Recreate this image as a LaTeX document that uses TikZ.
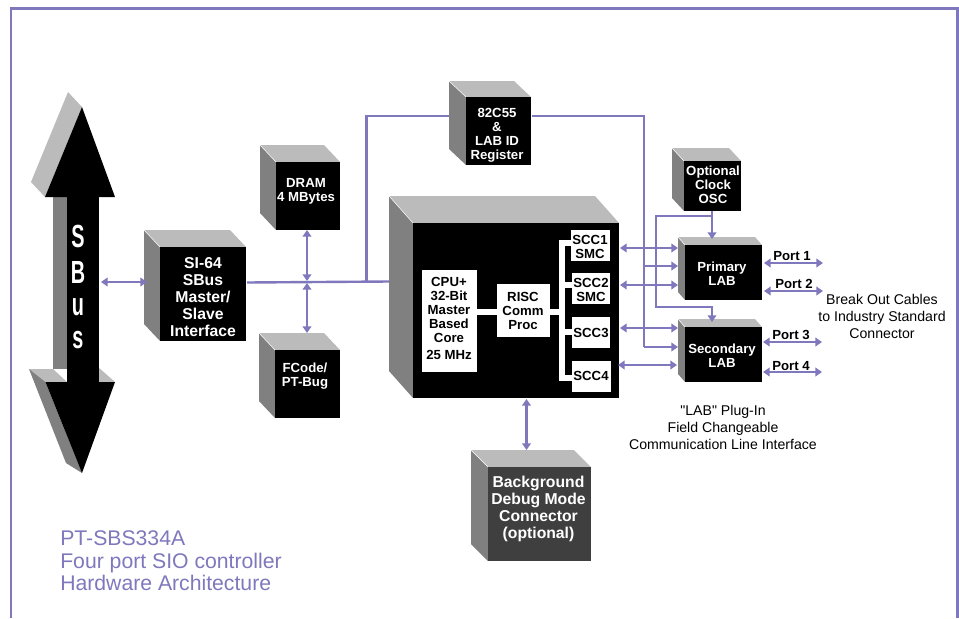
\documentclass[tikz,border=0pt]{standalone}
\usepackage{fontspec}
\setmainfont{Liberation Sans}[Ligatures=TeXOff]
\usetikzlibrary{arrows.meta}
\definecolor{lnk}{HTML}{7F78BC}
\definecolor{toplt}{HTML}{BBBBBB}
\definecolor{sidedk}{HTML}{808080}
\definecolor{dbg}{HTML}{3F3F3F}
\tikzset{
 px/.style={x=0.75pt,y=-0.75pt},
 bi/.style={draw=lnk,line width=1.8pt,{Triangle[length=5pt,width=6.5pt]}-{Triangle[length=5pt,width=6.5pt]}},
 uni/.style={draw=lnk,line width=1.8pt,-{Triangle[length=5pt,width=6.5pt]}},
 thinuni/.style={draw=lnk,line width=1pt,-{Triangle[length=5pt,width=6.5pt]}},
 wire/.style={draw=lnk,line width=1.8pt},
 frontbox/.style={inner sep=0pt,outer sep=0pt},
 whitebox/.style={fill=white,draw=none,inner sep=0pt,outer sep=0pt},
 bus/.style={draw=white,line width=3.8pt},
 wb/.style={text=white,align=center,inner sep=0pt,font=\bfseries\fontsize{9.9}{10.5}\selectfont},
 wbl/.style={text=white,align=center,inner sep=0pt,font=\bfseries\fontsize{11.8}{12.75}\selectfont},
 kb/.style={text=black,align=center,inner sep=0pt,font=\bfseries\fontsize{9.9}{10.5}\selectfont},
 note/.style={text=black,align=center,inner sep=0pt,font=\fontsize{10.6}{12.75}\selectfont},
 title/.style={text=lnk,align=left,anchor=west,inner sep=0pt,font=\fontsize{15.9}{16.9}\selectfont},
 letter/.style={text=white,inner sep=0pt,font=\bfseries\fontsize{24}{24}\selectfont},
}
% name, x1, y1, x2, y2, dx, dy, fill
\newcommand{\mycube}[8]{%
 \fill[toplt] ({#2-#6},{#3-#7}) -- ({#4-#6},{#3-#7}) -- (#4,#3) -- (#2,#3) -- cycle;
 \fill[sidedk] ({#2-#6},{#3-#7}) -- (#2,#3) -- (#2,#5) -- ({#2-#6},{#5-#7}) -- cycle;
 \draw[white,line width=0.4pt] ({#2-#6},{#3-#7}) -- (#2,#3);
 \node[frontbox,fill=#8,minimum width={(#4-#2)*0.75pt},minimum height={(#5-#3)*0.75pt}] (#1) at ({(#2+#4)/2},{(#3+#5)/2}) {};
}
\newcommand{\mywbox}[5]{%
 \node[whitebox,minimum width={(#4-#2)*0.75pt},minimum height={(#5-#3)*0.75pt}] (#1) at ({(#2+#4)/2},{(#3+#5)/2}) {};
}
\begin{document}
\begin{tikzpicture}[px]
\useasboundingbox (0,0) rectangle (959,618);
\fill[white] (0,0) rectangle (959,618);
% frame
\coordinate (fbl) at (11,618); \coordinate (ftl) at (11,8.5);
\coordinate (ftr) at (957.5,8.5); \coordinate (fbr) at (957.5,618);
\draw[wire] (fbl) -- (ftl) -- (ftr) -- (fbr);

% SBus double arrow
\fill[toplt] (68,92) -- (82,107) -- (45,197) -- (31,182) -- cycle;
\fill[sidedk] (53,197) rectangle (67,369);
\fill[toplt] (29,369) -- (53,369) -- (67,382) -- (45.5,382) -- cycle;
\fill[toplt] (98,367) -- (115,382) -- (98,382) -- cycle;
\fill[sidedk] (29,369) -- (45.5,382) -- (82,473) -- (66,463) -- cycle;
\node[frontbox,fill=black,minimum width={32*0.75pt},minimum height={186*0.75pt}] (sbus) at (83,289.5) {};
\fill[black] (82,107) -- (115,197) -- (45,197) -- cycle;
\fill[black] (45.5,382) -- (115,382) -- (82,473) -- cycle;
\node[letter] (ls1) at (78,236) {\scalebox{0.62}[1]{S}};
\node[letter] (lb) at (78,272) {\scalebox{0.62}[1]{B}};
\node[letter] (lu) at (78,307) {\scalebox{0.62}[1]{u}};
\node[letter] (ls2) at (78,340) {\scalebox{0.62}[1]{s}};

% cubes
\mycube{dram}{276}{162}{340}{230}{16}{17}{black}
\mycube{si}{160}{247}{246}{341}{16}{17}{black}
\mycube{fcode}{275}{350}{340}{418}{16}{17}{black}
\mycube{reg}{466}{97}{531}{165}{17}{16}{black}
\mycube{main}{413}{223}{619}{398}{24}{27}{black}
\mycube{osc}{684}{161}{741}{211}{12}{13}{black}
\mycube{prim}{685}{245}{762}{300}{7}{8}{black}
\mycube{sec}{685}{327}{762}{382}{7}{8}{black}
\mycube{bdm}{488}{467}{591}{561}{17}{17}{dbg}

% inside main block
\coordinate (bust) at (562,243); \coordinate (busb) at (562,378);
\coordinate (bus2) at (562,285); \coordinate (bus3) at (562,332); \coordinate (busm) at (562,312);
\draw[bus,line cap=rect] (bust) -- (busb);
\mywbox{cpu}{422}{270}{477}{372}
\mywbox{risc}{497}{284}{550}{337}
\mywbox{scca}{571}{230}{610}{261}
\mywbox{sccb}{572}{273}{610}{304}
\mywbox{sccc}{572}{317}{610}{348}
\mywbox{sccd}{572}{361}{611}{392}
\coordinate (cpur) at (477,312); \coordinate (riscl) at (497,312);
\coordinate (riscr) at (550,312);
\coordinate (sa) at (571,243); \coordinate (sb) at (572,285); \coordinate (sc) at (572,332); \coordinate (sd) at (572,378);
\draw[bus] (cpur) -- (riscl);
\draw[bus] (riscr) -- (busm);
\draw[bus] (bust) -- (sa);
\draw[bus] (bus2) -- (sb);
\draw[bus] (bus3) -- (sc);
\draw[bus] (busb) -- (sd);

% connector coordinates
\coordinate (sbusp) at (101,282); \coordinate (sip) at (147,282);
\coordinate (sir) at (247,282.5); \coordinate (j1) at (307,282); \coordinate (j2) at (366.5,281.5); \coordinate (mainl) at (389,281.5);
\coordinate (dramb) at (307,230); \coordinate (j1u) at (307,281); \coordinate (j1d) at (307,283); \coordinate (fct) at (307,333);
\coordinate (jt) at (366.5,116); \coordinate (regl) at (449,116);
\coordinate (regr) at (532,116); \coordinate (tr) at (644,116); \coordinate (j3) at (644,266); \coordinate (br) at (644,347);
\coordinate (pl) at (678,266); \coordinate (sl) at (678,347);

\draw[bi] (sbusp) -- (sip);
\draw[wire] (sir) -- (mainl);
\draw[bi] (dramb) -- (j1u);
\draw[bi] (j1d) -- (fct);
\draw[wire] (j2) -- (jt) -- (regl);
\draw[wire] (regr) -- (tr) -- (br);
\draw[uni] (j3) -- (pl);
\draw[uni] (br) -- (sl);

% SCC links
\coordinate (a1) at (620,248); \coordinate (a2) at (678,248);
\coordinate (b1) at (620,285); \coordinate (b2) at (678,285);
\coordinate (c1) at (620,328); \coordinate (c2) at (678,328);
\coordinate (d1) at (618,365); \coordinate (d2) at (677,365);
\draw[bi] (a1) -- (a2);
\draw[bi] (b1) -- (b2);
\draw[bi] (c1) -- (c2);
\draw[bi] (d1) -- (d2);

% clock
\coordinate (oscb) at (712,211); \coordinate (primt) at (712,239);
\coordinate (ck1) at (712,216); \coordinate (ck2) at (656,216); \coordinate (ck3) at (656,307); \coordinate (ck4) at (712,307); \coordinate (sect) at (712,322);
\draw[uni] (oscb) -- (primt);
\draw[thinuni] (ck1) -- (ck2) -- (ck3) -- (ck4) -- (sect);

% ports
\coordinate (p1a) at (764,263); \coordinate (p1b) at (823,263);
\coordinate (p2a) at (764,291); \coordinate (p2b) at (823,291);
\coordinate (p3a) at (763,342); \coordinate (p3b) at (822,342);
\coordinate (p4a) at (763,372); \coordinate (p4b) at (822,372);
\draw[bi] (p1a) -- (p1b);
\draw[bi] (p2a) -- (p2b);
\draw[bi] (p3a) -- (p3b);
\draw[bi] (p4a) -- (p4b);

% BDM link
\coordinate (mainb) at (526.5,399); \coordinate (bdmt) at (526.5,450);
\draw[bi] (mainb) -- (bdmt);

% labels
\node[wb] (tdram) at (306,191) {DRAM\\4 MBytes};
\node[wbl] (tsi) at (203,297) {SI-64\\SBus\\Master/\\Slave\\Interface};
\node[wb] (tfc) at (305,376) {FCode/\\PT-Bug};
\node[wb] (treg) at (497,135.5) {82C55\\\&\\LAB ID\\Register};
\node[wb] (tosc) at (713,185) {Optional\\Clock\\OSC};
\node[wb] (tprim) at (722,274) {Primary\\LAB};
\node[wb] (tsec) at (722,356) {Secondary\\LAB};
\node[wbl] (tbdm) at (538.5,508.5) {Background\\Debug Mode\\Connector\\(optional)};
\node[kb] (tcpu) at (449,318.5) {CPU+\\32-Bit\\Master\\Based\\Core\\[2pt]25 MHz};
\node[kb] (trisc) at (523,311) {RISC\\Comm\\Proc};
\node[kb] (tsa) at (590,247) {SCC1\\SMC};
\node[kb] (tsb) at (591,290) {SCC2\\SMC};
\node[kb] (tsc) at (591,333) {SCC3};
\node[kb] (tsd) at (591,376) {SCC4};
\node[kb] (pt1) at (792,256) {Port 1};
\node[kb] (pt2) at (794,284) {Port 2};
\node[kb] (pt3) at (791,335) {Port 3};
\node[kb] (pt4) at (791,366) {Port 4};
\node[note] (tbreak) at (882,316) {Break Out Cables\\to Industry Standard\\Connector};
\node[note] (tlab) at (723,427) {"LAB" Plug-In\\Field Changeable\\Communication Line Interface};
\node[title] (ttitle) at (60,561) {PT-SBS334A\\Four port SIO controller\\Hardware Architecture};
\end{tikzpicture}
\end{document}
